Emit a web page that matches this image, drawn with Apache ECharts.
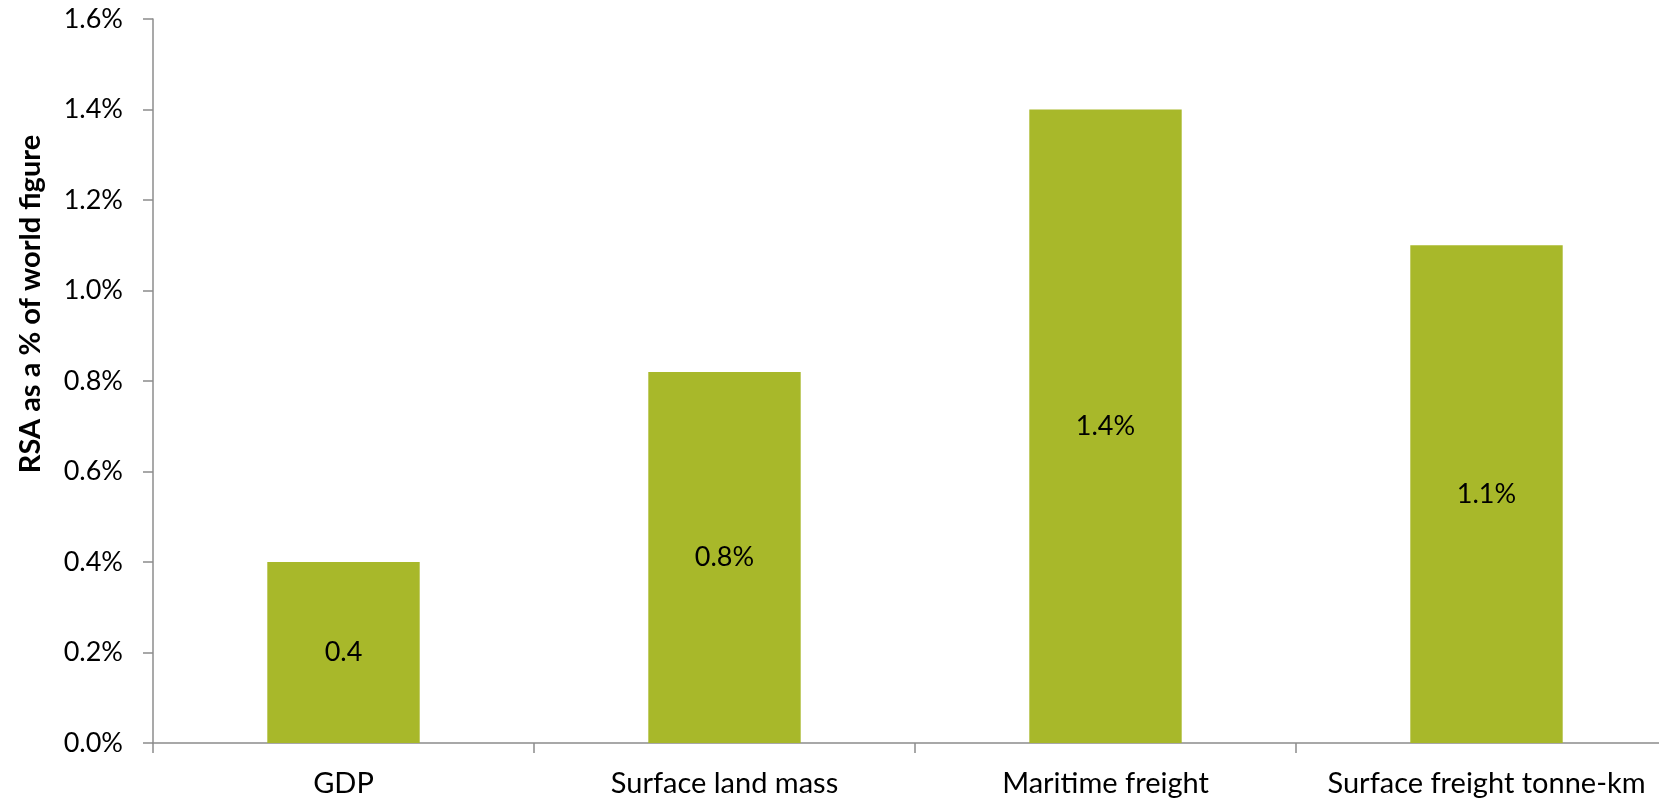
<!DOCTYPE html>
<html>
<head>
<meta charset="utf-8">
<script src="https://cdn.jsdelivr.net/npm/echarts@6/dist/echarts.min.js"></script>
<style>
  html, body { margin: 0; padding: 0; background: #ffffff; overflow: hidden; }
  /* the plot runs a little past the right edge of the window */
  #chart { width: 1677px; height: 799px; }
</style>
</head>
<body>
<div id="chart"></div>
<script>
// RSA share of world totals, in percent
const categories = ['GDP', 'Surface land mass', 'Maritime freight', 'Surface freight tonne-km'];
const shareValues = [0.4, 0.82, 1.4, 1.1];
const labelSuffixes = ['', '%', '%', '%'];
const yTicks = { min: 0, max: 1.6, interval: 0.2 };
const yAxisTitle = 'RSA as a % of world figure';

const barColor = '#A8B82A';
const axisColor = '#8C8C8C';
const fontFamily = 'Lato, "Open Sans", sans-serif';

const chart = echarts.init(document.getElementById('chart'), null, { renderer: 'canvas' });

chart.setOption({
  animation: false,
  backgroundColor: '#ffffff',
  grid: { left: 153, right: 0, top: 19, bottom: 56, containLabel: false },
  xAxis: {
    type: 'category',
    data: categories,
    boundaryGap: true,
    axisLine: { lineStyle: { color: axisColor, width: 1.5 } },
    axisTick: { show: true, length: 10, lineStyle: { color: axisColor, width: 1.5 } },
    axisLabel: { color: '#000000', fontFamily: fontFamily, fontSize: 29, margin: 26, interval: 0 }
  },
  yAxis: {
    type: 'value',
    min: yTicks.min,
    max: yTicks.max,
    interval: yTicks.interval,
    axisLine: { show: true, lineStyle: { color: axisColor, width: 1.5 } },
    axisTick: { show: true, length: 10, lineStyle: { color: axisColor, width: 1.5 } },
    splitLine: { show: false },
    axisLabel: {
      color: '#000000',
      fontFamily: fontFamily,
      fontSize: 27,
      margin: 30,
      formatter: v => v.toFixed(1) + '%'
    }
  },
  graphic: [{
    type: 'text',
    x: 31,
    y: 304,
    rotation: Math.PI / 2,
    style: {
      text: yAxisTitle,
      fill: '#000000',
      font: 'bold 29px ' + fontFamily,
      align: 'center',
      verticalAlign: 'middle'
    }
  }],
  series: [{
    type: 'bar',
    data: shareValues,
    barWidth: '40%',
    itemStyle: { color: barColor },
    label: {
      show: true,
      position: 'inside',
      color: '#000000',
      fontFamily: fontFamily,
      fontSize: 27,
      formatter: p => p.value.toFixed(1) + labelSuffixes[p.dataIndex]
    }
  }]
});
</script>
</body>
</html>
